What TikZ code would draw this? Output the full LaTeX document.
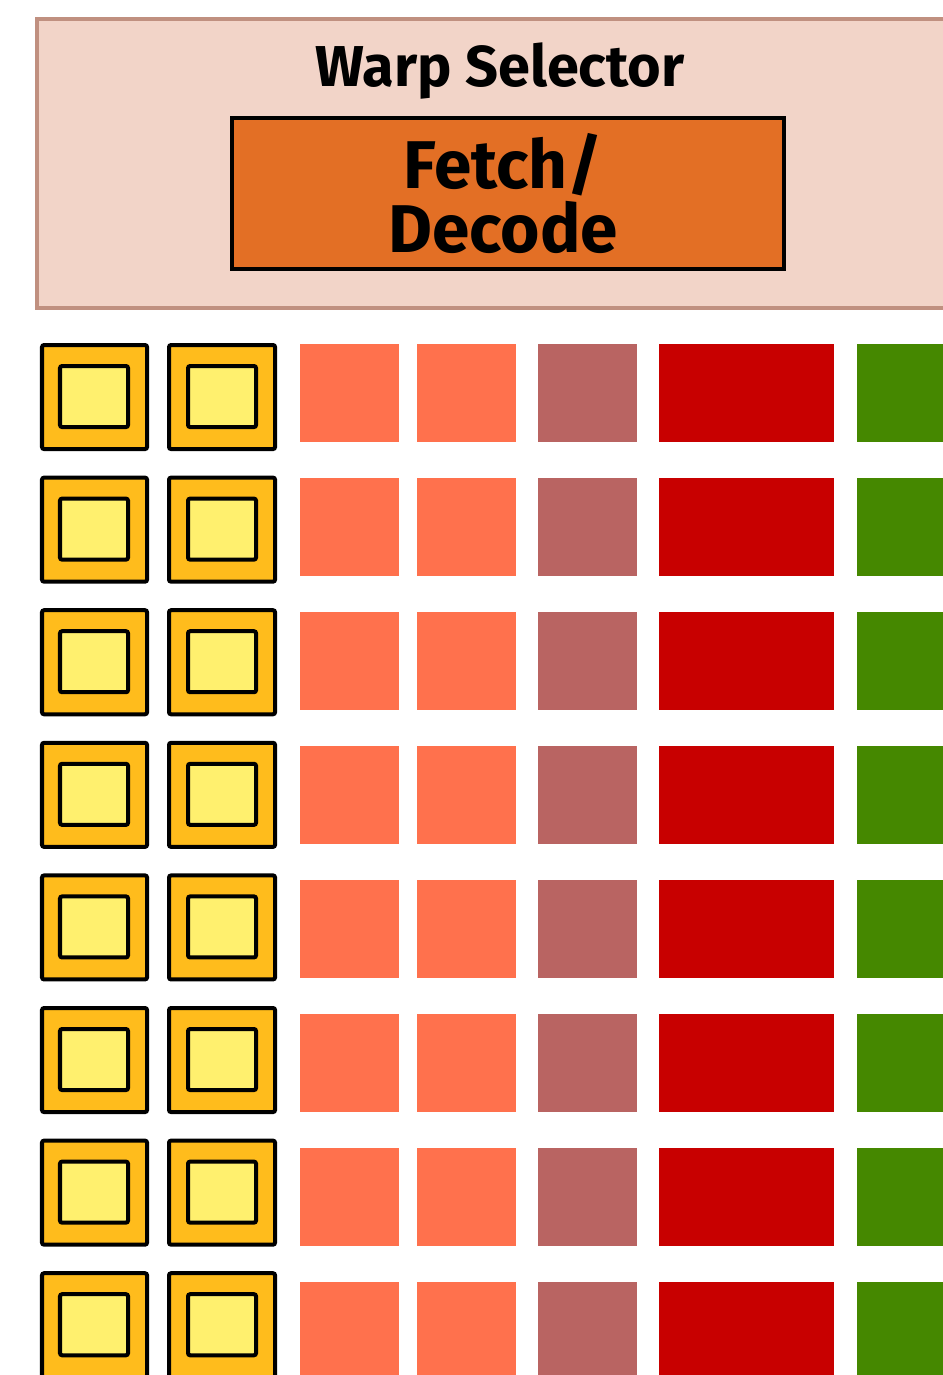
\documentclass[tikz,border=0pt]{standalone}
\usepackage{fontspec}
\newfontfamily\blockfont{Fira Sans}
\usepackage{xcolor}
\usepackage{tikz}
\usetikzlibrary{positioning}
\definecolor{selfill}{RGB}{242,212,200}
\definecolor{seldraw}{RGB}{192,144,128}
\definecolor{fetchfill}{RGB}{227,111,37}
\definecolor{coreouter}{RGB}{255,188,28}
\definecolor{coreinner}{RGB}{255,240,110}
\definecolor{unitorange}{RGB}{255,113,77}
\definecolor{unitbrown}{RGB}{185,100,98}
\definecolor{unitred}{RGB}{200,0,0}
\definecolor{unitgreen}{RGB}{69,136,0}

\begin{document}
\begin{tikzpicture}[x=0.01cm,y=-0.01cm,
  box/.style={rectangle,anchor=north west,inner sep=0pt,outer sep=0pt},
  selbox/.style={box,draw=seldraw,fill=selfill,line width=0.04cm},
  fetchbox/.style={box,draw=black,fill=fetchfill,line width=0.04cm},
  coreout/.style={box,draw=black,fill=coreouter,line width=0.04cm,rounded corners=0.6pt,minimum width=1.05cm,minimum height=1.04cm},
  corein/.style={box,draw=black,fill=coreinner,line width=0.04cm,rounded corners=0.6pt,minimum width=0.68cm,minimum height=0.61cm},
  unit/.style={box,minimum height=0.98cm}]
\useasboundingbox (0,0) rectangle (943,1375);
\clip (0,0) rectangle (943,1375);
% warp selector and fetch/decode
\node[selbox,minimum width=9.7cm,minimum height=2.89cm] (warp) at (37,19) {};
\node[anchor=base,font=\blockfont\bfseries\fontsize{16.4}{18}\selectfont] (warptxt) at (500,86) {Warp Selector};
\node[fetchbox,minimum width=5.52cm,minimum height=1.51cm] (fetch) at (232,118) {};
\node[align=center,font=\blockfont\bfseries\fontsize{19.2}{18.3}\selectfont,xshift=-0.05cm] (fetchtxt) at (fetch.center) {Fetch/\\Decode};
% cores and units, one row each
\foreach \r in {0,...,7}{
  \pgfmathsetmacro\yc{345+132.6*\r}
  \pgfmathsetmacro\yi{\yc+21}
  \pgfmathsetmacro\yu{344+134*\r}
  \node[coreout] (corea\r) at (42,\yc) {};
  \node[corein] (coreina\r) at (60,\yi) {};
  \node[coreout,minimum width=1.06cm] (coreb\r) at (169,\yc) {};
  \node[corein] (coreinb\r) at (188,\yi) {};
  \node[unit,fill=unitorange,minimum width=0.99cm] (ua\r) at (300,\yu) {};
  \node[unit,fill=unitorange,minimum width=0.99cm] (ub\r) at (417,\yu) {};
  \node[unit,fill=unitbrown,minimum width=0.99cm] (uc\r) at (538,\yu) {};
  \node[unit,fill=unitred,minimum width=1.75cm] (ud\r) at (659,\yu) {};
  \node[unit,fill=unitgreen,minimum width=1.5cm] (ue\r) at (857,\yu) {};
}
\end{tikzpicture}
\end{document}
